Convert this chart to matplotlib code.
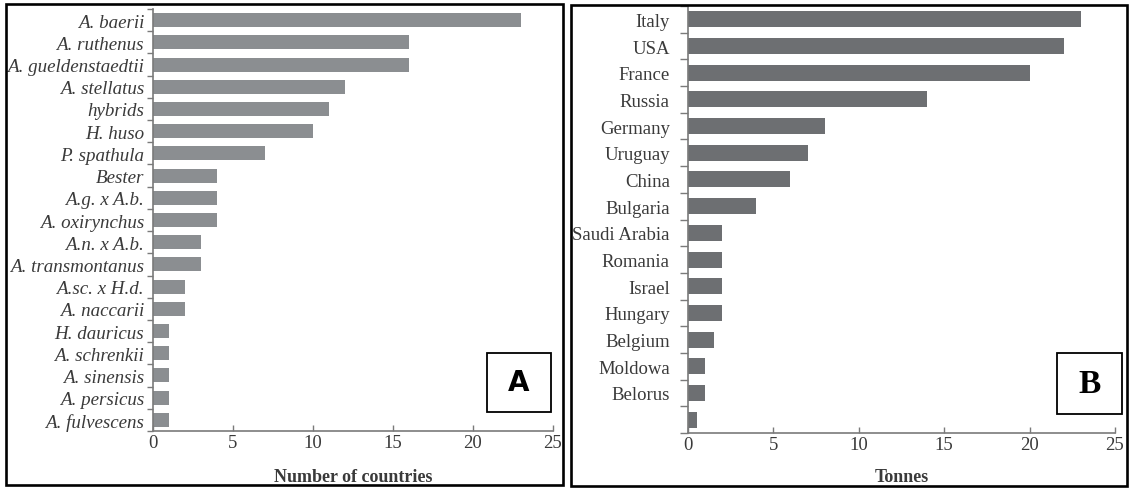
import matplotlib
matplotlib.use("Agg")
import matplotlib.pyplot as plt
from matplotlib.patches import Rectangle
from matplotlib.ticker import FixedLocator
import numpy as np

# Panel A: sturgeon species farmed, by number of countries
species = ["A. baerii", "A. ruthenus", "A. gueldenstaedtii", "A. stellatus",
           "hybrids", "H. huso", "P. spathula", "Bester", "A.g. x A.b.",
           "A. oxirynchus", "A.n. x A.b.", "A. transmontanus", "A.sc. x H.d.",
           "A. naccarii", "H. dauricus", "A. schrenkii", "A. sinensis",
           "A. persicus", "A. fulvescens"]
n_countries = [23, 16, 16, 12, 11, 10, 7, 4, 4, 4, 3, 3, 2, 2, 1, 1, 1, 1, 1]

# Panel B: caviar production by country, tonnes
countries = ["Italy", "USA", "France", "Russia", "Germany", "Uruguay", "China",
             "Bulgaria", "Saudi Arabia", "Romania", "Israel", "Hungary",
             "Belgium", "Moldowa", "Belorus", ""]
tonnes = [23, 22, 20, 14, 8, 7, 6, 4, 2, 2, 2, 2, 1.5, 1, 1, 0.5]

x_ticks = [0, 5, 10, 15, 20, 25]

W, H = 1129, 489
fig = plt.figure(figsize=(W / 100, H / 100), dpi=100)

TXT = "#3a3a3a"
SPINE = "#7a7a7a"


def fx(px):
    return px / W


def fy(py):
    return 1 - py / H


def panel(rect, labels, values, color, xlabel, italic, bar_h, ypad, tick_len,
          label_size, xlabel_pad):
    ax = fig.add_axes(rect)
    pos = np.arange(len(labels))
    ax.barh(pos, values, height=bar_h, color=color, edgecolor="none")
    ax.set_xlim(0, 25)
    ax.set_ylim(len(labels) - 0.5, -0.5)
    for s in ("top", "right"):
        ax.spines[s].set_visible(False)
    for s in ("left", "bottom"):
        ax.spines[s].set_color(SPINE)
        ax.spines[s].set_linewidth(1.2)
    ax.set_yticks(pos)
    ax.set_yticklabels(labels, family="Liberation Serif",
                       style="italic" if italic else "normal",
                       fontsize=label_size, color=TXT)
    ax.yaxis.set_minor_locator(FixedLocator(np.arange(-0.5, len(labels), 1.0)))
    ax.tick_params(axis="y", which="major", length=0, pad=ypad)
    ax.tick_params(axis="y", which="minor", length=tick_len, width=1.0,
                   color=SPINE, direction="out")
    ax.set_xticks(x_ticks)
    ax.set_xticklabels([str(t) for t in x_ticks], family="Liberation Serif",
                       fontsize=13.5, color=TXT)
    ax.tick_params(axis="x", length=4, width=1.0, color=SPINE,
                   direction="in", pad=2)
    ax.set_xlabel(xlabel, family="Liberation Serif", fontweight="bold",
                  fontsize=13, color=TXT, labelpad=xlabel_pad)
    return ax


panel([fx(153), fy(432), fx(400), (432 - 10) / H], species, n_countries,
      "#8b8e91", "Number of countries", True, 0.63, 6.5, 4, 13.7, 12.5)
panel([fx(688), fy(434), fx(427), (434 - 7) / H], countries, tonnes,
      "#6d6f72", "Tonnes", False, 0.6, 13, 6, 13.5, 11)

# outer frames around each panel
for (x0, y0, x1, y1) in [(6, 5, 563, 486), (571, 6, 1127, 487)]:
    fig.add_artist(Rectangle((fx(x0), fy(y1)), fx(x1 - x0), (y1 - y0) / H,
                             transform=fig.transFigure, fill=False,
                             edgecolor="black", linewidth=1.9))

# panel letters
for (x0, y0, x1, y1, letter, fam) in [(487, 354, 551, 413, "A", "DejaVu Sans"),
                                      (1057, 354, 1122, 415, "B", "Liberation Serif")]:
    fig.add_artist(Rectangle((fx(x0), fy(y1)), fx(x1 - x0), (y1 - y0) / H,
                             transform=fig.transFigure, fill=False,
                             edgecolor="black", linewidth=1.3))
    fig.text(fx((x0 + x1) / 2), fy((y0 + y1) / 2), letter, family=fam,
             fontweight="bold", fontsize=20 if letter == "A" else 24,
             ha="center", va="center", color="black")

fig.savefig("out.png", dpi=100)
